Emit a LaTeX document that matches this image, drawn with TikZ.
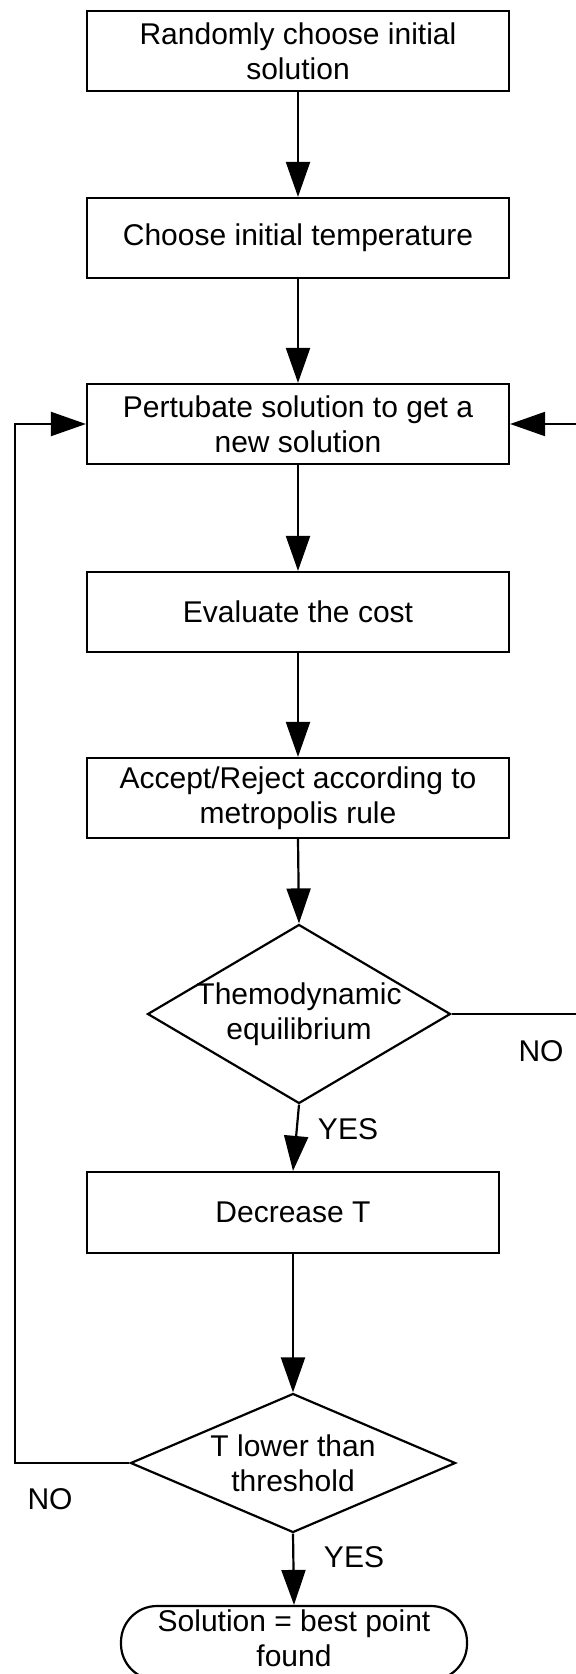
\documentclass[tikz,border=0pt]{standalone}
\usepackage{fontspec}
\setmainfont{Liberation Sans}
\usetikzlibrary{arrows.meta,shapes.geometric}
\begin{document}
\begin{tikzpicture}[x=0.5pt,y=-0.5pt,
  every node/.style={font=\fontsize{15pt}{17.5pt}\selectfont},
  procbox/.style={draw=black, line width=1.1pt, fill=white, minimum width=211pt,
    minimum height=40pt, inner sep=0pt, align=center},
  decision/.style={draw=black, line width=1.1pt, shape=diamond, inner sep=0pt},
  terminal/.style={draw=black, line width=1.1pt, rounded corners=18pt,
    minimum width=173pt, minimum height=37pt, inner sep=0pt},
  arr/.style={line width=1.1pt, -{Triangle[length=17.5pt,width=12pt]}},
  flag/.style={inner sep=0pt}
]
\useasboundingbox (0,0) rectangle (576,1674);

% process steps
\node[procbox] (b1) at (298,51)  {Randomly choose initial\\solution};
\node[procbox] (b2) at (298,238) {Choose initial temperature};
\node[procbox] (b3) at (298,424) {Pertubate solution to get a\\new solution};
\node[procbox] (b4) at (298,612) {Evaluate the cost};
\node[procbox] (b5) at (298,798) {Accept/Reject according to\\metropolis rule};

% first decision
\node[decision, minimum width=151.5pt, minimum height=89.5pt] (d1) at (299,1014) {};
\node[align=center] (d1t) at (d1.center) {Themodynamic\\equilibrium};

\node[procbox, minimum width=206pt, minimum height=40.5pt] (b6) at (293,1212.5) {Decrease T};

% second decision
\node[decision, minimum width=162.5pt, minimum height=69.5pt] (d2) at (293,1463) {};
\node[align=center] (d2t) at (d2.center) {T lower than\\threshold};

% end
\node[terminal] (end) at (294,1643) {};
\node[align=center] (endt) at (294,1638) {Solution = best point\\found};

% loop corners
\coordinate (lft) at (15,0);
\coordinate (rgt) at (582,0);

% main flow
\draw[arr] (b1.south) -- (b2.north);
\draw[arr] (b2.south) -- (b3.north);
\draw[arr] (b3.south) -- (b4.north);
\draw[arr] (b4.south) -- (b5.north);
\draw[arr] (b5.south) -- (d1.north);
\draw[arr] (d1.south) -- (b6.north);
\draw[arr] (b6.south) -- (d2.north);
\draw[arr] (d2.south) -- (end.north);

% feedback loops
\draw[arr] (d1.east) -- (d1.east -| rgt) -- (b3.east -| rgt) -- (b3.east);
\draw[arr] (d2.west) -- (d2.west -| lft) -- (b3.west -| lft) -- (b3.west);

% branch labels
\node[flag] (no1)  at (541,1051)  {NO};
\node[flag] (yes1) at (348,1129)  {YES};
\node[flag] (no2)  at (50,1499)   {NO};
\node[flag] (yes2) at (354,1557)  {YES};
\end{tikzpicture}
\end{document}
